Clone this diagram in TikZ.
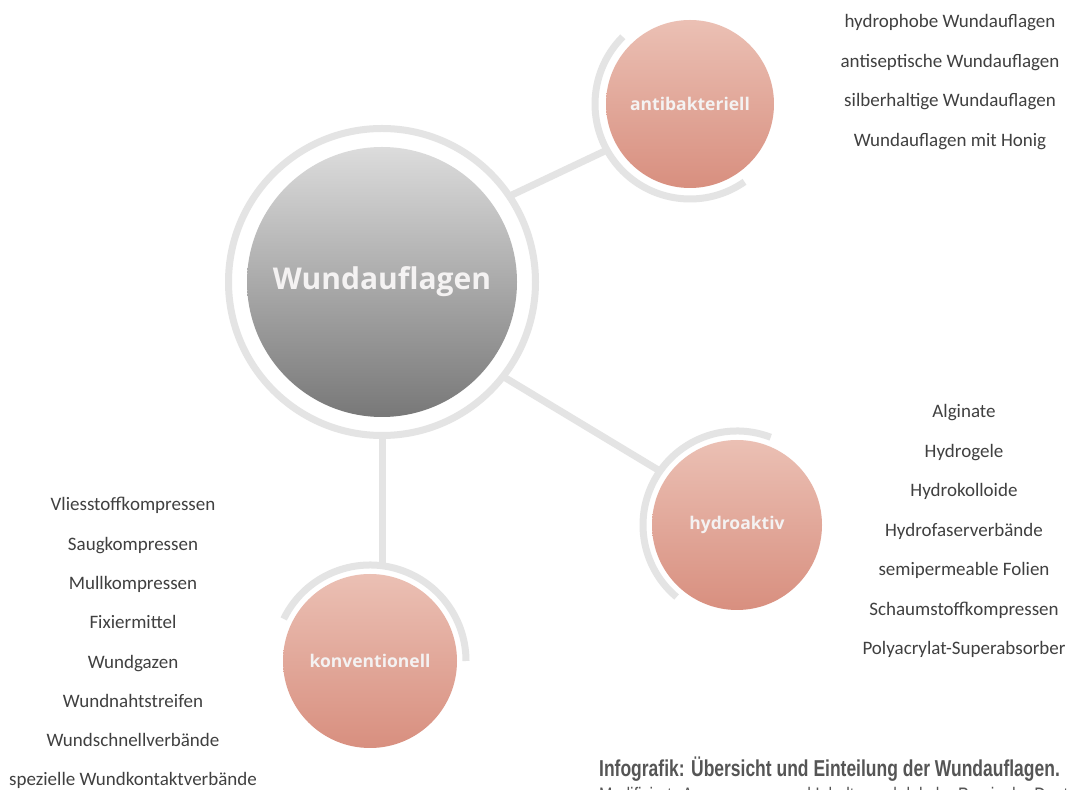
\documentclass[tikz,border=0pt]{standalone}
\usepackage{fontspec}
\setmainfont{Carlito}
\newfontfamily\headfont{Open Sans}
\newfontfamily\capfont[FakeStretch=0.76]{Liberation Sans}
\usetikzlibrary{backgrounds}
\definecolor{ringc}{HTML}{E4E4E4}
\definecolor{hubtop}{HTML}{DCDCDC}
\definecolor{hubbot}{HTML}{787878}
\definecolor{cattop}{HTML}{EBC0B4}
\definecolor{catbot}{HTML}{D88F7F}
\definecolor{itemc}{HTML}{404040}
\definecolor{capc}{HTML}{555555}
\definecolor{lblc}{HTML}{F4F2F2}
\begin{document}
\begin{tikzpicture}[x=1pt,y=1pt,
  ringline/.style={draw=ringc, line width=7pt},
  hub/.style={circle, minimum size=270pt, inner sep=0pt, top color=hubtop, bottom color=hubbot, text=lblc, font=\headfont\bfseries\fontsize{30}{36}\selectfont},
  cat/.style={circle, inner sep=0pt, top color=cattop, bottom color=catbot, text=lblc, font=\headfont\bfseries\fontsize{17.5}{20}\selectfont},
  item/.style={anchor=base, inner sep=0pt, text=itemc, font=\fontsize{19}{22}\selectfont},
  captitle/.style={anchor=base west, inner sep=0pt, text=capc, font=\capfont\bfseries\fontsize{23}{26}\selectfont},
  capline/.style={anchor=base west, inner sep=0pt, text=capc, font=\capfont\fontsize{21}{24}\selectfont}
]
\useasboundingbox (0,0) rectangle (1069,790);
% nodes
\node[hub] (hub) at (382,508) {Wundauflagen};
\node[cat, minimum size=168pt] (anti) at (690,686) {antibakteriell};
\node[cat, minimum size=170pt] (hydro) at (737,265) {hydroaktiv};
\node[cat, minimum size=174pt] (konv) at (370,129) {konventionell};
% connector end points
\coordinate (hubA) at ([shift={(34:153)}]hub.center);
\coordinate (antiH) at ([shift={(209:95)}]anti.center);
\coordinate (hubH) at ([shift={(-38:153)}]hub.center);
\coordinate (hydroH) at ([shift={(145:94)}]hydro.center);
\coordinate (hubK) at ([shift={(-90:153)}]hub.center);
\coordinate (konvTop) at ([shift={(0,95)}]konv.center);
\coordinate (konvH) at (hubK |- konvTop);
\begin{pgfonlayer}{background}
  \fill[white] (0,0) rectangle (1069,790);
  \draw[ringline] (hub.center) circle[radius=153.5];
  \draw[ringline] ([shift={(135:95)}]anti.center) arc[start angle=135, end angle=305, radius=95];
  \draw[ringline] ([shift={(69:94)}]hydro.center) arc[start angle=69, end angle=230, radius=94];
  \draw[ringline] ([shift={(154:96)}]konv.center) arc[start angle=154, end angle=0, radius=96];
  \draw[ringline] (hubA) -- (antiH);
  \draw[ringline] (hubH) -- (hydroH);
  \draw[ringline] (hubK) -- (konvH);
\end{pgfonlayer}
% antibakteriell items
\node[item] (a1) at (950,762.5) {hydrophobe Wundauflagen};
\node[item] (a2) at (950,722.5) {antiseptische Wundauflagen};
\node[item] (a3) at (950,683) {silberhaltige Wundauflagen};
\node[item] (a4) at (950,643.5) {Wundauflagen mit Honig};
% hydroaktiv items
\node[item] (h1) at (964,372) {Alginate};
\node[item] (h2) at (964,332.5) {Hydrogele};
\node[item] (h3) at (964,293) {Hydrokolloide};
\node[item] (h4) at (964,253.5) {Hydrofaserverbände};
\node[item] (h5) at (964,214) {semipermeable Folien};
\node[item] (h6) at (964,174.5) {Schaumstoffkompressen};
\node[item] (h7) at (964,135) {Polyacrylat-Superabsorber};
% konventionell items
\node[item] (k1) at (133,279) {Vliesstoffkompressen};
\node[item] (k2) at (133,239.7) {Saugkompressen};
\node[item] (k3) at (133,200.4) {Mullkompressen};
\node[item] (k4) at (133,161.1) {Fixiermittel};
\node[item] (k5) at (133,121.8) {Wundgazen};
\node[item] (k6) at (133,82.5) {Wundnahtstreifen};
\node[item] (k7) at (133,43.2) {Wundschnellverbände};
\node[item] (k8) at (133,4) {spezielle Wundkontaktverbände};
% caption
\node[captitle] (cap) at (599,13) {Infografik: Übersicht und Einteilung der Wundauflagen.};
\node[capline] (cap2) at (599,-13) {Modifiziert: Anpassungen und Inhalte nach lokaler Praxis der Deutschen};
\end{tikzpicture}
\end{document}
